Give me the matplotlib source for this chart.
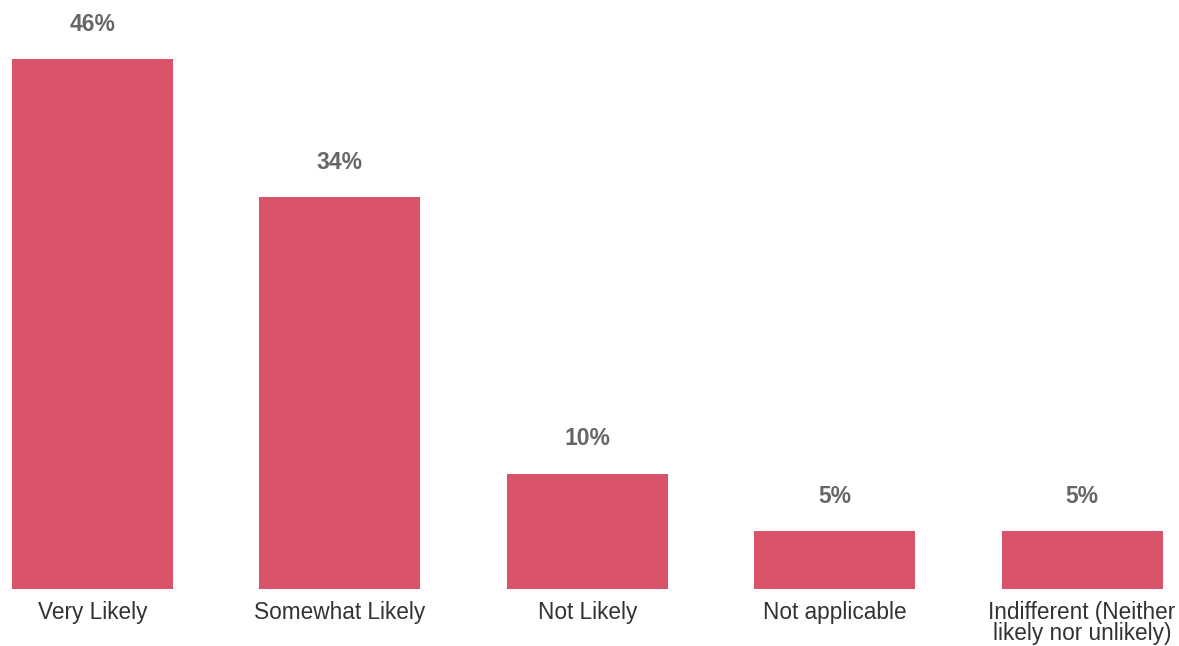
import matplotlib.pyplot as plt
import numpy as np

# survey responses
categories = ["Very Likely", "Somewhat Likely", "Not Likely", "Not applicable",
              "Indifferent (Neither\nlikely nor unlikely)"]
percents = [46, 34, 10, 5, 5]

bar_color = "#D9536A"

plt.rcParams['font.family'] = ['Liberation Sans', 'DejaVu Sans']

fig = plt.figure(figsize=(11.79, 6.46), dpi=100)
ax = fig.add_axes([0, 57 / 646, 1, 589 / 646])

x = np.arange(len(categories))
bars = ax.bar(x, percents, width=0.651, color=bar_color)

for b, p in zip(bars, percents):
    ax.annotate(f"{p}%", (b.get_x() + b.get_width() / 2, b.get_height()),
                xytext=(0, 20.5), textcoords="offset points",
                ha="center", va="baseline", fontsize=16.5,
                fontweight="bold", color="#666666")

ax.set_xlim(-0.3739, 4.3918)
ax.set_ylim(0, 589 / 11.52)
ax.set_xticks(x)
ax.set_xticklabels(categories, fontsize=16.3, color="#333333", linespacing=0.92)
ax.tick_params(axis="x", length=0, pad=8.5)
ax.set_yticks([])
for s in ax.spines.values():
    s.set_visible(False)

fig.savefig("out.png", dpi=100)
